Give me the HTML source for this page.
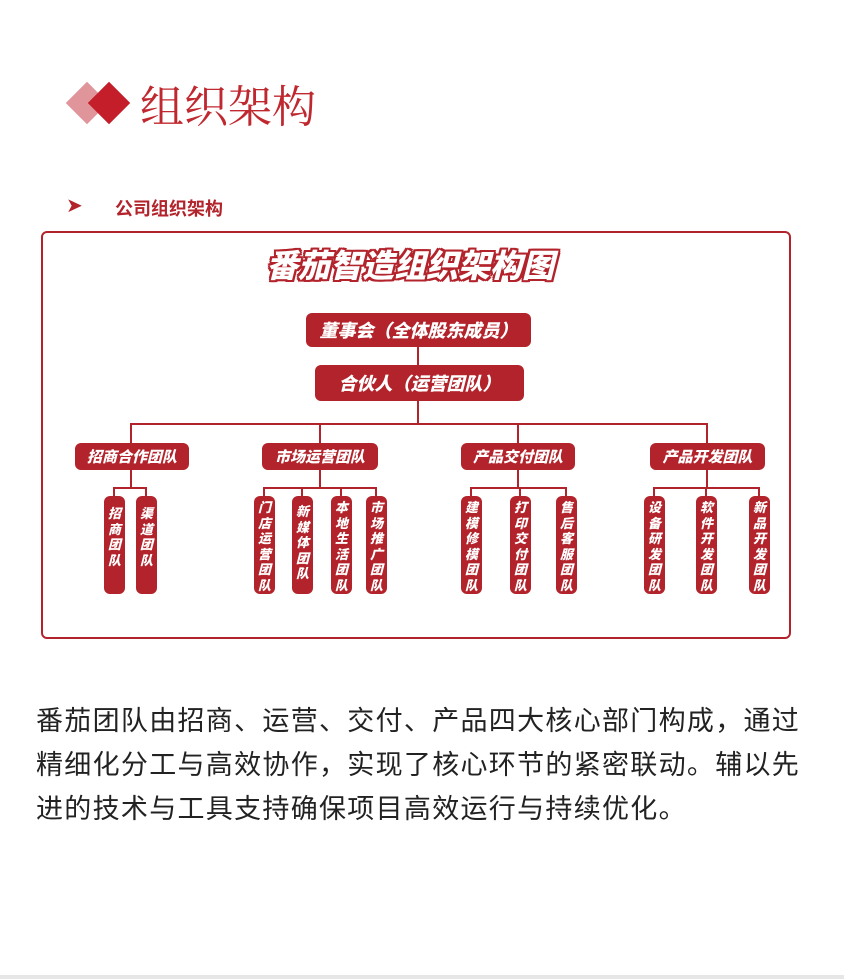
<!DOCTYPE html>
<html><head><meta charset="utf-8"><style>
body{margin:0;width:844px;height:979px;background:#fff;position:relative;overflow:hidden;font-family:"Liberation Sans","Noto Sans CJK SC",sans-serif}
.a{position:absolute}
.bx{position:absolute;background:#b3232b;color:#fff;border-radius:6px;font-weight:900;font-style:italic;display:flex;align-items:center;justify-content:center;white-space:nowrap}
.lf{position:absolute;background:#b3232b;color:#fff;border-radius:6px;width:21px;top:496px;height:98px;font-weight:900;font-size:13px;line-height:15.5px;text-align:center;padding-top:4px;box-sizing:border-box;font-style:italic}
.ln{position:absolute;background:#b3232b}
</style></head><body>
<div class="a" style="left:72px;top:88px;width:30px;height:30px;background:#e0959a;transform:rotate(45deg)"></div>
<div class="a" style="left:94px;top:88px;width:30px;height:30px;background:#c41e2a;transform:rotate(45deg)"></div>
<div class="a" style="left:140px;top:76px;font-family:'Noto Serif CJK SC',serif;font-size:44px;color:#c0282f;line-height:54px">组织架构</div>
<div class="a" style="left:66px;top:193px;font-size:20px;color:#b3232b">➤</div>
<div class="a" style="left:115px;top:195px;font-size:18px;font-weight:bold;color:#b3232b">公司组织架构</div>
<div class="a" style="left:41px;top:231px;width:746px;height:404px;border:2px solid #b3232b;border-radius:6px"></div>
<div class="a" style="left:200px;top:246px;width:420px;text-align:center;font-size:32px;line-height:40px;font-weight:900;font-style:italic;color:#fff;text-shadow:-2px -2px 0 #b3232b,2px -2px 0 #b3232b,-2px 2px 0 #b3232b,2px 2px 0 #b3232b,0 2px 0 #b3232b,0 -2px 0 #b3232b,2px 0 0 #b3232b,-2px 0 0 #b3232b">番茄智造组织架构图</div>
<div class="bx" style="left:306px;top:313px;width:225px;height:34px;font-size:18px">董事会（全体股东成员）</div>
<div class="ln" style="left:417px;top:347px;width:2px;height:18px"></div>
<div class="bx" style="left:315px;top:365px;width:209px;height:36px;font-size:18px">合伙人（运营团队）</div>
<div class="ln" style="left:417px;top:401px;width:2px;height:24px"></div>
<div class="ln" style="left:131px;top:423px;width:577px;height:2px"></div>
<div class="ln" style="left:130px;top:423px;width:2px;height:20px"></div>
<div class="ln" style="left:319px;top:423px;width:2px;height:20px"></div>
<div class="ln" style="left:517px;top:423px;width:2px;height:20px"></div>
<div class="ln" style="left:706px;top:423px;width:2px;height:20px"></div>
<div class="bx" style="left:75px;top:443px;width:114px;height:27px;font-size:15px">招商合作团队</div>
<div class="bx" style="left:262px;top:443px;width:116px;height:27px;font-size:15px">市场运营团队</div>
<div class="bx" style="left:461px;top:443px;width:114px;height:27px;font-size:15px">产品交付团队</div>
<div class="bx" style="left:650px;top:443px;width:115px;height:27px;font-size:15px">产品开发团队</div>
<div class="ln" style="left:130px;top:470px;width:2px;height:18px"></div>
<div class="ln" style="left:319px;top:470px;width:2px;height:18px"></div>
<div class="ln" style="left:517px;top:470px;width:2px;height:18px"></div>
<div class="ln" style="left:706px;top:470px;width:2px;height:18px"></div>
<div class="ln" style="left:114px;top:487px;width:33px;height:2px"></div>
<div class="ln" style="left:264px;top:487px;width:113px;height:2px"></div>
<div class="ln" style="left:471px;top:487px;width:96px;height:2px"></div>
<div class="ln" style="left:654px;top:487px;width:106px;height:2px"></div>
<div class="ln" style="left:113px;top:487px;width:2px;height:10px"></div><div class="ln" style="left:145px;top:487px;width:2px;height:10px"></div>
<div class="ln" style="left:263px;top:487px;width:2px;height:10px"></div><div class="ln" style="left:301px;top:487px;width:2px;height:10px"></div><div class="ln" style="left:340px;top:487px;width:2px;height:10px"></div><div class="ln" style="left:375px;top:487px;width:2px;height:10px"></div>
<div class="ln" style="left:470px;top:487px;width:2px;height:10px"></div><div class="ln" style="left:519px;top:487px;width:2px;height:10px"></div><div class="ln" style="left:565px;top:487px;width:2px;height:10px"></div>
<div class="ln" style="left:653px;top:487px;width:2px;height:10px"></div><div class="ln" style="left:705px;top:487px;width:2px;height:10px"></div><div class="ln" style="left:758px;top:487px;width:2px;height:10px"></div>
<div class="lf" style="left:104px;padding-top:10px">招<br>商<br>团<br>队</div>
<div class="lf" style="left:136px;padding-top:10px">渠<br>道<br>团<br>队</div>
<div class="lf" style="left:254px">门<br>店<br>运<br>营<br>团<br>队</div>
<div class="lf" style="left:292px;padding-top:8px">新<br>媒<br>体<br>团<br>队</div>
<div class="lf" style="left:331px">本<br>地<br>生<br>活<br>团<br>队</div>
<div class="lf" style="left:366px">市<br>场<br>推<br>广<br>团<br>队</div>
<div class="lf" style="left:461px">建<br>模<br>修<br>模<br>团<br>队</div>
<div class="lf" style="left:510px">打<br>印<br>交<br>付<br>团<br>队</div>
<div class="lf" style="left:556px">售<br>后<br>客<br>服<br>团<br>队</div>
<div class="lf" style="left:644px">设<br>备<br>研<br>发<br>团<br>队</div>
<div class="lf" style="left:696px">软<br>件<br>开<br>发<br>团<br>队</div>
<div class="lf" style="left:749px">新<br>品<br>开<br>发<br>团<br>队</div>
<div class="a" style="left:36px;top:699px;width:780px;font-size:27px;line-height:44px;color:#222;letter-spacing:1.3px">番茄团队由招商、运营、交付、产品四大核心部门构成，通过精细化分工与高效协作，实现了核心环节的紧密联动。辅以先进的技术与工具支持确保项目高效运行与持续优化。</div>
<div class="a" style="left:0;top:975px;width:844px;height:4px;background:#e6e6e6"></div>
</body></html>
